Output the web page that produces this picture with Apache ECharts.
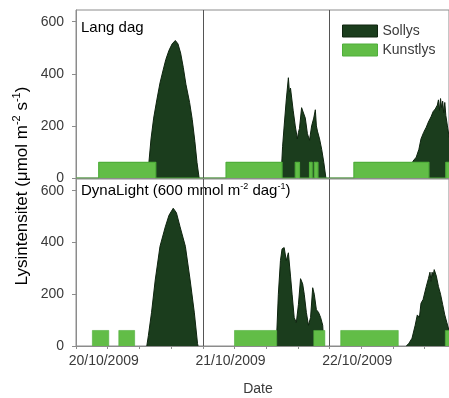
<!DOCTYPE html>
<html>
<head>
<meta charset="utf-8">
<script src="https://cdn.jsdelivr.net/npm/echarts@6/dist/echarts.min.js"></script>
<style>
html,body{margin:0;padding:0;background:#fff;}
#c{width:449px;height:398px;}
</style>
</head>
<body>
<div id="c"></div>
<script>
// ---- data (time in hours from 20/10/2009 00:00) ----
const dayLabels = ['20/10/2009', '21/10/2009', '22/10/2009'];
const dayLabelT = [0, 24, 48];
const tickT = [-6, 0, 6, 12, 18, 24, 30, 36, 42, 48, 54, 60];
const yTicks = [0, 200, 400, 600];
const dividerT = [18, 42];
const panelTitles = ['Lang dag', 'DynaLight (600 mmol m}{s|-2}{n| dag}{s|-1}{n|)'];
const seriesNames = ['Sollys', 'Kunstlys'];
const lampLevel = 60;

const lampTop = [[-1.7, 9.1], [22.4, 33.0], [35.5, 36.3], [38.2, 38.7], [39.1, 39.8], [46.6, 60.8], [64.0, 66]];
const lampBottom = [[-2.9, 0.2], [2.1, 5.1], [24.0, 32.0], [39.0, 41.1], [44.1, 55.0], [63.9, 66]];

const sunTopDay1 = [[7.6,0],[7.8,60],[8.2,150],[8.7,230],[9.3,300],[9.9,365],[10.5,415],[11.0,455],[11.6,490],[12.2,515],[12.8,528],[13.3,515],[13.8,480],[14.3,425],[14.8,360],[15.5,290],[16.0,225],[16.5,140],[16.9,60],[17.3,0]];
const sunTopDay2 = [[32.8,0],[33.1,120],[33.4,200],[33.8,300],[34.2,385],[34.4,330],[34.6,345],[34.8,350],[35.1,260],[35.5,200],[35.9,150],[36.1,175],[36.3,190],[36.7,270],[37.0,265],[37.4,230],[37.8,170],[38.2,145],[38.6,200],[39.0,230],[39.3,262],[39.5,200],[39.7,180],[40.1,150],[40.5,110],[40.9,60],[41.3,0]];
const sunTopDay3 = [[57.0,0],[57.3,40],[57.8,65],[58.4,80],[58.9,110],[59.3,150],[59.8,175],[60.3,195],[60.7,215],[61.2,235],[61.6,255],[62.0,265],[62.4,280],[62.6,300],[62.8,260],[63.0,305],[63.2,270],[63.4,295],[63.6,250],[63.8,290],[64.0,240],[64.3,200],[64.6,160],[65.0,130]];

const sunBotDay1 = [[7.4,0],[7.7,40],[8.3,130],[9.0,255],[9.9,385],[10.9,460],[11.6,505],[12.4,532],[13.0,515],[13.7,460],[14.7,385],[15.6,255],[16.4,128],[17.0,10],[17.1,0]];
const sunBotDay2 = [[31.9,0],[32.3,200],[32.7,330],[33.0,375],[33.4,380],[33.8,330],[34.2,360],[34.6,270],[34.9,200],[35.3,110],[35.7,90],[36.1,160],[36.5,260],[36.9,240],[37.2,200],[37.6,130],[38.0,80],[38.4,110],[38.8,225],[39.1,200],[39.5,140],[39.9,130],[40.3,110],[40.7,80],[40.9,0]];
const sunBotDay3 = [[56.5,0],[57.0,10],[57.6,30],[58.2,80],[58.6,120],[59.0,110],[59.3,165],[59.7,180],[60.3,230],[60.7,260],[61.0,285],[61.2,250],[61.4,285],[61.6,270],[61.8,295],[62.2,270],[62.6,230],[63.0,200],[63.4,160],[63.8,120],[64.2,90],[64.6,60],[65.0,40]];

// ---- build ----
const X_MIN = -6, X_MAX = 64.6;
const DARK = '#1b3d1d', LIGHT = '#62bd47';
const FONT = "'Liberation Sans', Arial, sans-serif";
const TXT = '#3a3a3a';

function joinDays(days) {
  const out = [];
  days.forEach((d, i) => {
    if (i > 0) out.push([(days[i - 1][days[i - 1].length - 1][0] + d[0][0]) / 2, '-']);
    d.forEach(p => out.push(p));
  });
  return out;
}
function lampSteps(periods, withBase) {
  const out = [];
  if (withBase) out.push([X_MIN, 0]);
  periods.forEach((p, i) => {
    if (!withBase && i > 0) out.push([(periods[i - 1][1] + p[0]) / 2, '-']);
    out.push([p[0], 0], [p[0], lampLevel], [p[1], lampLevel], [p[1], 0]);
  });
  if (withBase) out.push([70, 0]);
  return out;
}

const grids = [
  {left: 76, right: 0, top: 10, height: 168},
  {left: 76, right: 0, top: 179, height: 167}
];

const xAxes = grids.map((g, i) => ({
  type: 'value', gridIndex: i, min: X_MIN, max: X_MAX,
  axisLine: {show: true, onZero: false, lineStyle: {color: '#8c8c8c', width: 1}},
  axisTick: {show: i === 1, customValues: tickT, length: 3, lineStyle: {color: '#8c8c8c'}},
  axisLabel: {
    show: i === 1, customValues: dayLabelT, color: TXT, fontSize: 14, fontFamily: FONT,
    margin: 8, padding: [0, 8, 0, 0],
    formatter: v => { const k = dayLabelT.indexOf(Math.round(v)); return k >= 0 ? dayLabels[k] : ''; }
  },
  splitLine: {show: false}
}));

const yAxes = grids.map((g, i) => ({
  type: 'value', gridIndex: i, min: 0, max: 645,
  axisLine: {show: true, onZero: false, lineStyle: {color: '#8c8c8c', width: 1}},
  axisTick: {show: true, customValues: yTicks, length: 4, lineStyle: {color: '#8c8c8c'}},
  axisLabel: {customValues: yTicks, color: TXT, fontSize: 14, fontFamily: FONT, margin: 12},
  splitLine: {show: false}
}));

function sunSeries(idx, data) {
  return {
    name: seriesNames[0], type: 'line', xAxisIndex: idx, yAxisIndex: idx,
    data: data, showSymbol: false, symbol: 'none', animation: false,
    itemStyle: {color: DARK},
    lineStyle: {color: '#0e240f', width: 1},
    areaStyle: {color: DARK, opacity: 1, origin: 0},
    markLine: {
      symbol: 'none', silent: true, animation: false, label: {show: false},
      lineStyle: {color: '#555', width: 1, type: 'solid'},
      data: dividerT.map(t => ({xAxis: t}))
    },
    z: 2
  };
}
function lampSeries(idx, data, showLine) {
  return {
    name: seriesNames[1], type: 'line', xAxisIndex: idx, yAxisIndex: idx,
    data: data, showSymbol: false, symbol: 'none', animation: false,
    itemStyle: {color: LIGHT},
    lineStyle: {color: '#4fae3a', width: showLine ? 1.2 : 0.6, opacity: 1},
    areaStyle: {color: LIGHT, opacity: 1, origin: 0},
    z: 3
  };
}

const series = [
  sunSeries(0, joinDays([sunTopDay1, sunTopDay2, sunTopDay3])),
  lampSeries(0, lampSteps(lampTop, true), true),
  sunSeries(1, joinDays([sunBotDay1, sunBotDay2, sunBotDay3])),
  lampSeries(1, lampSteps(lampBottom, false), false)
];

const richPanel = {
  n: {fontSize: 15, fontFamily: FONT, color: TXT, lineHeight: 18},
  s: {fontSize: 9, fontFamily: FONT, color: TXT, verticalAlign: 'top', lineHeight: 18}
};
const richTitle = {
  n: {fontSize: 17, fontFamily: FONT, color: TXT, lineHeight: 21},
  s: {fontSize: 11, fontFamily: FONT, color: TXT, verticalAlign: 'top', lineHeight: 21}
};

const option = {
  backgroundColor: '#fff',
  animation: false,
  grid: grids.map(g => Object.assign({show: true, borderColor: '#8c8c8c', borderWidth: 1, backgroundColor: '#fff'}, g)),
  xAxis: xAxes,
  yAxis: yAxes,
  legend: {
    left: 342, top: 24, padding: 0, orient: 'vertical', icon: 'rect', itemWidth: 35, itemHeight: 12, itemGap: 5,
    textStyle: {fontSize: 14, fontFamily: FONT, color: TXT},
    data: [
      {name: seriesNames[0], itemStyle: {color: DARK, borderColor: '#0e240f', borderWidth: 1}},
      {name: seriesNames[1], itemStyle: {color: LIGHT, borderColor: '#4fae3a', borderWidth: 1}}
    ]
  },
  graphic: [
    {type: 'text', x: 81, y: 28, style: {text: '{n|' + panelTitles[0] + '}', rich: richPanel, verticalAlign: 'middle', align: 'left'}},
    {type: 'text', x: 81, y: 191, style: {text: '{n|' + panelTitles[1] + '}', rich: richPanel, verticalAlign: 'middle', align: 'left'}},
    {type: 'text', x: 22, y: 186, rotation: Math.PI / 2,
      style: {text: '{n|Lysintensitet (μmol m}{s|-2}{n| s}{s|-1}{n|)}', rich: richTitle, align: 'center', verticalAlign: 'middle'}},
    {type: 'text', x: 258, y: 389, style: {text: 'Date', font: '14px ' + FONT, fill: TXT, align: 'center', verticalAlign: 'middle'}}
  ],
  series: series
};

const chart = echarts.init(document.getElementById('c'), null, {renderer: 'canvas'});
chart.setOption(option);
</script>
</body>
</html>
